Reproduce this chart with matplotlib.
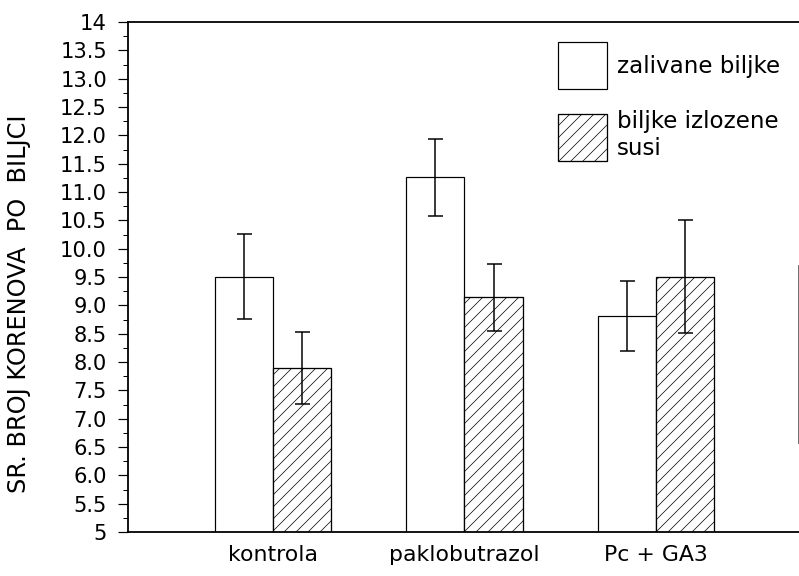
import numpy as np
import matplotlib
matplotlib.use('Agg')
import matplotlib.pyplot as plt
from matplotlib.ticker import MultipleLocator
from matplotlib.lines import Line2D

# data
groups = ['kontrola', 'paklobutrazol', 'Pc + GA3']
zalivane = [9.50, 11.26, 8.81]
zalivane_lo = [8.76, 10.57, 8.19]
zalivane_hi = [10.26, 11.93, 9.43]
susa = [7.89, 9.14, 9.50]
susa_lo = [7.26, 8.54, 8.51]
susa_hi = [8.53, 9.73, 10.50]
labels = ['zalivane biljke', 'biljke izlozene\nsusi']
yticks = [5, 5.5, 6.0, 6.5, 7.0, 7.5, 8.0, 8.5, 9.0, 9.5, 10.0, 10.5, 11.0,
          11.5, 12.0, 12.5, 13.0, 13.5, 14]
ytick_labels = ['5', '5.5', '6.0', '6.5', '7.0', '7.5', '8.0', '8.5', '9.0', '9.5',
                '10.0', '10.5', '11.0', '11.5', '12.0', '12.5', '13.0', '13.5', '14']

plt.rcParams['font.family'] = ['DejaVu Sans']
plt.rcParams['hatch.linewidth'] = 0.7

fig = plt.figure(figsize=(799/72., 576/72.), dpi=72)
ax = fig.add_axes([128/799., 1 - 532/576., (800-128)/799., (532-22)/576.])

x = np.arange(len(groups)); w = 0.304
z = np.array(zalivane); s = np.array(susa)
ax.bar(x - w/2, z, w, color='white', edgecolor='black', linewidth=1.2, label=labels[0], zorder=2)
ax.bar(x + w/2, s, w, color='white', edgecolor='black', hatch='//', linewidth=1.3, label=labels[1], zorder=2)
ax.errorbar(x - w/2, z, yerr=[z - np.array(zalivane_lo), np.array(zalivane_hi) - z], fmt='none',
            ecolor='black', elinewidth=1.5, capsize=7.5, capthick=1.5, zorder=3)
ax.errorbar(x + w/2, s, yerr=[s - np.array(susa_lo), np.array(susa_hi) - s], fmt='none',
            ecolor='black', elinewidth=1.5, capsize=7.5, capthick=1.5, zorder=3)

ax.set_xlim(-0.759, 2.754); ax.set_ylim(5, 14)
ax.set_xticks(x); ax.set_xticklabels(groups, fontsize=22)
ax.tick_params(axis='x', length=0, pad=13)
ax.set_yticks(yticks); ax.set_yticklabels(ytick_labels, fontsize=21)
ax.yaxis.set_minor_locator(MultipleLocator(0.25))
ax.tick_params(axis='y', which='major', direction='out', length=10, width=1.2, pad=11)
ax.tick_params(axis='y', which='minor', direction='out', length=5, width=1)
for sp in ['left', 'bottom', 'top']:
    ax.spines[sp].set_linewidth(1.8)
ax.spines['right'].set_visible(False)
ax.set_ylabel('SR. BROJ KORENOVA  PO  BILJCI', fontsize=24)
ax.yaxis.set_label_coords(-0.145, 0.447)

leg = ax.legend(loc='upper left', bbox_to_anchor=(0.6265, 0.978), frameon=False, fontsize=23,
                handlelength=2.13, handleheight=2.77, labelspacing=0.9, handletextpad=0.43,
                borderaxespad=0)

# faint vertical edge at the right of the scan
fig.add_artist(Line2D([798/799., 798/799.], [1 - 443/576., 1 - 265/576.], color='0.45', lw=1))

fig.savefig('out.png', dpi=72)
